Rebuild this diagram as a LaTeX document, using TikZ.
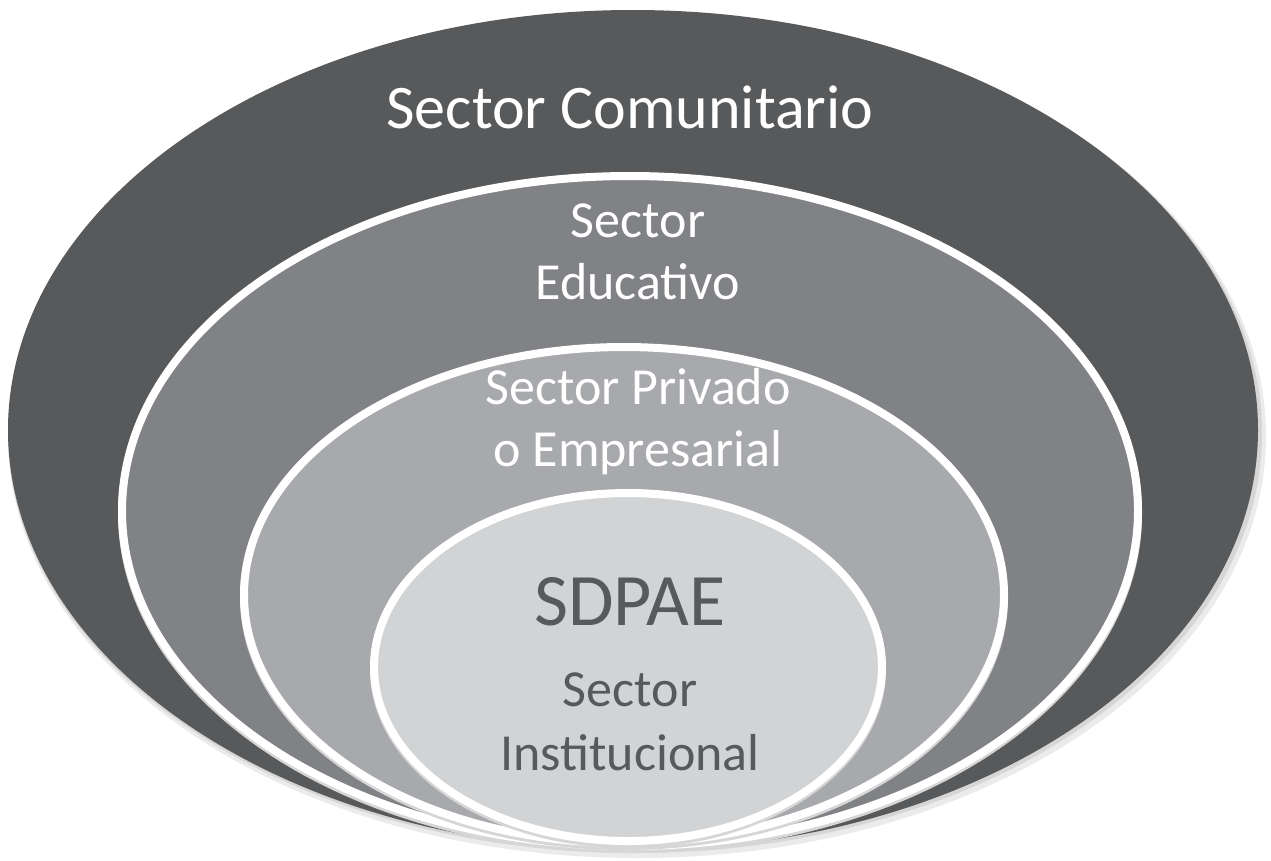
\documentclass[tikz,border=0pt]{standalone}
\usepackage{fontspec}
\setmainfont{Carlito}
\definecolor{cA}{HTML}{58595B}
\definecolor{cB}{HTML}{808285}
\definecolor{cC}{HTML}{A7A9AC}
\definecolor{cD}{HTML}{D1D3D4}
\tikzset{
  ring/.style={draw=white,line width=8pt},
  halo/.style={fill=black!8},
  shadowA/.style={fill=black!16},
  wlabel/.style={text=white,align=center,inner sep=0pt},
  dlabel/.style={text=cA,align=center,inner sep=0pt},
}
\begin{document}
\begin{tikzpicture}[x=1pt,y=-1pt]
\useasboundingbox (0,0) rectangle (1271,860);
% outer ellipse with soft shadow
\fill[halo] (637,436) ellipse [x radius=629,y radius=422];
\fill[shadowA] (635,433) ellipse [x radius=627,y radius=420];
\fill[cA] (633,430) ellipse [x radius=625,y radius=420];
% second
\fill[shadowA] (630,514) ellipse [x radius=512,y radius=339];
\filldraw[fill=cB,ring] (630,511) ellipse [x radius=508,y radius=335];
% third
\fill[shadowA] (624,598) ellipse [x radius=384,y radius=252];
\filldraw[fill=cC,ring] (624,595) ellipse [x radius=380,y radius=248];
% fourth
\fill[shadowA] (628,670) ellipse [x radius=258,y radius=178];
\filldraw[fill=cD,ring] (628,667) ellipse [x radius=254,y radius=174];
% labels
\node[wlabel,font=\fontsize{62}{74}\selectfont,anchor=base] (t1) at (630,128) {Sector Comunitario};
\node[wlabel,font=\fontsize{52}{62}\selectfont] (t2) at (638,252) {Sector\\Educativo};
\node[wlabel,font=\fontsize{52}{62}\selectfont] (t3) at (638,422) {Sector Privado\\o Empresarial};
\node[dlabel,font=\fontsize{74}{80}\selectfont,anchor=base] (t4) at (630,625) {SDPAE};
\node[dlabel,font=\fontsize{52}{64}\selectfont] (t5) at (630,722) {Sector\\Institucional};
\end{tikzpicture}
\end{document}
